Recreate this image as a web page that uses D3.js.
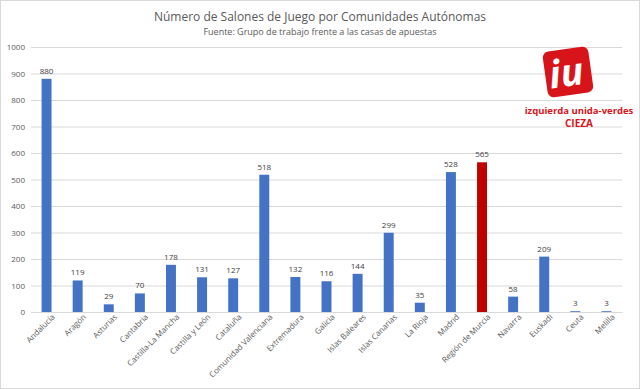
<!DOCTYPE html>
<html>
<head>
<meta charset="utf-8">
<script src="https://cdnjs.cloudflare.com/ajax/libs/d3/7.8.5/d3.min.js"></script>
<style>
body { margin: 0; background: #fff; }
text { font-family: "Open Sans", "Noto Sans", sans-serif; }
.grid line { stroke: #d9d9d9; }
.grid path { display: none; }
.yaxis path, .yaxis line { display: none; }
.yaxis text { fill: #595959; font-size: 8px; }
.xaxis path { stroke: #d9d9d9; }
.xaxis line { display: none; }
.xaxis text { fill: #595959; font-size: 8px; }
.val { fill: #404040; font-size: 8px; }
</style>
</head>
<body>
<svg width="640" height="389"></svg>
<script>
var regions = ["Andalucía", "Aragón", "Asturias", "Cantabria", "Castilla-La Mancha", "Castilla y León",
  "Cataluña", "Comunidad Valenciana", "Extremadura", "Galicia", "Islas Baleares", "Islas Canarias",
  "La Rioja", "Madrid", "Región de Murcia", "Navarra", "Euskadi", "Ceuta", "Melilla"];
var salones = [880, 119, 29, 70, 178, 131, 127, 518, 132, 116, 144, 299, 35, 528, 565, 58, 209, 3, 3];
var highlight = ["Región de Murcia"];
var yTicks = [0, 100, 200, 300, 400, 500, 600, 700, 800, 900, 1000];

var data = regions.map(function (r, i) { return { name: r, value: salones[i] }; });

var svg = d3.select("svg");
svg.append("rect").attr("x", 0.5).attr("y", 0.5).attr("width", 639).attr("height", 388)
  .attr("fill", "#fff").attr("stroke", "#d9d9d9");

var x = d3.scaleBand().domain(regions).range([31, 622]).paddingInner(0.68).paddingOuter(0.34);
var y = d3.scaleLinear().domain([0, 1000]).range([312, 47]);

svg.append("g").attr("class", "grid")
  .attr("transform", "translate(31,0)")
  .call(d3.axisLeft(y).tickValues(yTicks).tickSize(-591).tickFormat(""));

svg.append("g").attr("class", "yaxis")
  .attr("transform", "translate(25,0)")
  .call(d3.axisLeft(y).tickValues(yTicks).tickSize(0).tickPadding(0).tickFormat(d3.format("d")));

svg.selectAll(".bar").data(data).enter().append("rect")
  .attr("class", "bar")
  .attr("x", function (d) { return x(d.name); })
  .attr("width", x.bandwidth())
  .attr("y", function (d) { return y(d.value); })
  .attr("height", function (d) { return y(0) - y(d.value); })
  .attr("fill", function (d) { return highlight.indexOf(d.name) >= 0 ? "#c00000" : "#4472c4"; });

svg.selectAll(".val").data(data).enter().append("text")
  .attr("class", "val")
  .attr("text-anchor", "middle")
  .attr("x", function (d) { return x(d.name) + x.bandwidth() / 2; })
  .attr("y", function (d) { return y(d.value) - 5; })
  .text(function (d) { return d.value; });

var xa = svg.append("g").attr("class", "xaxis")
  .attr("transform", "translate(0,312)")
  .call(d3.axisBottom(x).tickSize(0).tickSizeOuter(0));
xa.selectAll("text")
  .attr("text-anchor", "end")
  .attr("dx", "0.3em")
  .attr("dy", "0.9em")
  .attr("transform", "rotate(-45)");

svg.append("text").attr("x", 320).attr("y", 21).attr("text-anchor", "middle")
  .attr("fill", "#595959").attr("font-size", "12px")
  .text("Número de Salones de Juego por Comunidades Autónomas");
svg.append("text").attr("x", 320).attr("y", 35).attr("text-anchor", "middle")
  .attr("fill", "#595959").attr("font-size", "9px")
  .text("Fuente: Grupo de trabajo frente a las casas de apuestas");

// logo
var logo = svg.append("g").attr("transform", "translate(568,72) rotate(-8)");
logo.append("rect").attr("x", -23).attr("y", -23).attr("width", 46).attr("height", 46)
  .attr("rx", 6).attr("fill", "#d7141a");
logo.append("text").attr("x", -2).attr("y", 14).attr("text-anchor", "middle")
  .attr("fill", "#fff").attr("font-size", "38px").attr("font-weight", "bold")
  .attr("font-style", "italic").attr("font-family", "Liberation Serif, serif")
  .text("iu");
svg.append("text").attr("x", 579).attr("y", 114).attr("text-anchor", "middle")
  .attr("fill", "#d7141a").attr("font-size", "9.5px").attr("font-weight", "bold")
  .attr("font-family", "Liberation Sans, sans-serif")
  .text("izquierda unida-verdes");
svg.append("text").attr("x", 579).attr("y", 127).attr("text-anchor", "middle")
  .attr("fill", "#d7141a").attr("font-size", "10px").attr("font-weight", "bold")
  .attr("font-family", "Liberation Sans, sans-serif")
  .text("CIEZA");
</script>
</body>
</html>
